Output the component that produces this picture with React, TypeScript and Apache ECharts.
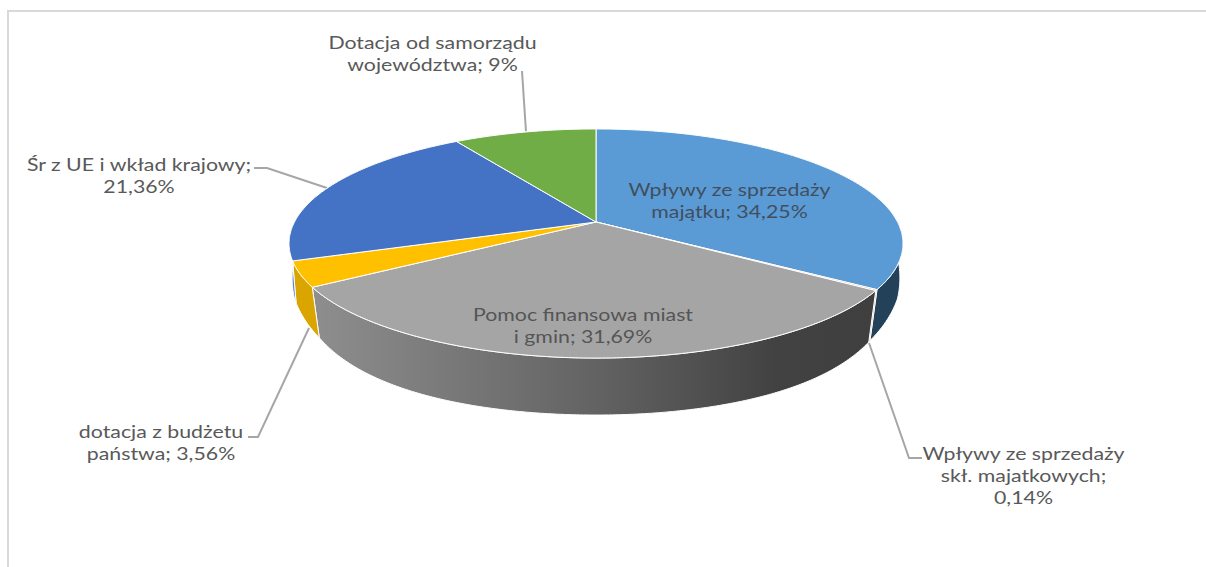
import React, { useEffect, useRef } from "react";
import * as echarts from "echarts";

// Data, clockwise from 12 o'clock
const categories = [
  "Wpływy ze sprzedaży\nmajątku",
  "Wpływy ze sprzedaży\nskł. majatkowych",
  "Pomoc finansowa miast\ni gmin",
  "dotacja z budżetu\npaństwa",
  "Śr z UE i wkład krajowy",
  "Dotacja od samorządu\nwojewództwa",
];
const values = [34.25, 0.14, 31.69, 3.56, 21.36, 9];
const valueLabels = ["34,25%", "0,14%", "31,69%", "3,56%", "21,36%", "9%"];

// Styles
const topColors = ["#5B9BD5", "#ED7D31", "#A5A5A5", "#FFC000", "#4472C4", "#70AD47"];
const wallColors: any[] = [
  "#234159",
  "#8F4C1D",
  new echarts.graphic.LinearGradient(0, 0, 1, 0, [
    { offset: 0, color: "#8e8e8e" },
    { offset: 0.5, color: "#636363" },
    { offset: 0.82, color: "#424242" },
    { offset: 1, color: "#3f3f3f" },
  ]),
  "#DBA500",
  "#5F86CC",
  "#5A8A39",
];

// Label layout (centre of text block) and leader lines
const labelCentres: [number, number][] = [
  [729.5, 200],
  [1023.5, 475],
  [583, 325],
  [161, 442.5],
  [139, 175.5],
  [432.5, 53.5],
];
const labelBreaks = [" ", "\n", " ", " ", "\n", " "];
const labelFill = ["#404f60", "#595959", "#555555", "#595959", "#595959", "#595959"];
const leaders: ([number, number][] | null)[] = [
  null,
  [[869, 343], [909, 458], [922, 458]],
  null,
  [[309, 328], [258, 437], [248, 437]],
  [[327, 188], [267, 168], [254, 168]],
  [[526, 132], [522, 71]],
];

// Perspective disc geometry
const apexX = 596;
const apexY = 222;
const discA = 301.5;
const discB = 110.5;
const discK = 0.1878;

const total = values.reduce((a, b) => a + b, 0);

function topPoint(t: number): [number, number] {
  const x = Math.sin(t);
  const y = -Math.cos(t);
  const d = 1 - discK * y;
  return [apexX + (discA * x) / d, apexY + (discB * y) / d];
}
function lowPoint(t: number): [number, number] {
  const [x, y] = topPoint(t);
  const u = y - 289;
  const h = Math.max(0, 51 + 0.2537 * u - 0.002417 * u * u);
  const s = 0.975 + 0.015 * Math.min(1, Math.max(0, (288 - y) / 30));
  return [apexX + (x - apexX) * s, y + h];
}
function sliceAngles(i: number): [number, number] {
  let s = 0;
  for (let k = 0; k < i; k++) s += values[k];
  return [(s / total) * 2 * Math.PI, ((s + values[i]) / total) * 2 * Math.PI];
}
function arc(a: number, b: number, f: (t: number) => [number, number]) {
  const n = Math.max(2, Math.ceil((b - a) / 0.01));
  const pts: [number, number][] = [];
  for (let j = 0; j <= n; j++) pts.push(f(a + ((b - a) * j) / n));
  return pts;
}

const seriesData = values.map((v) => [v]);

export default function App() {
  const ref = useRef<HTMLDivElement>(null);
  useEffect(() => {
    document.body.style.margin = "0";
    const chart = echarts.init(ref.current!, undefined, { renderer: "svg" });
    chart.setOption({
      animation: false,
      backgroundColor: "#ffffff",
      graphic: [
        {
          type: "polyline",
          shape: { points: [[8, 567], [8, 11], [1206, 11]] },
          style: { stroke: "#d9d9d9", lineWidth: 2, fill: "none" },
          silent: true,
        },
      ],
      series: [
        {
          type: "custom",
          coordinateSystem: "none",
          silent: true,
          z: 1,
          data: seriesData,
          renderItem: (p: any) => {
            const pts = leaders[p.dataIndex];
            if (!pts) return { type: "group", children: [] };
            return {
              type: "polyline",
              shape: { points: pts },
              style: { stroke: "#a6a6a6", lineWidth: 2, fill: "none" },
            };
          },
        },
        {
          type: "custom",
          coordinateSystem: "none",
          silent: true,
          z: 2,
          data: seriesData,
          renderItem: (p: any) => {
            const [a, b] = sliceAngles(p.dataIndex);
            const pts = [...arc(a, b, topPoint), ...arc(a, b, lowPoint).reverse()];
            return {
              type: "polygon",
              shape: { points: pts },
              style: { fill: wallColors[p.dataIndex], stroke: "#ffffff", lineWidth: 1 },
            };
          },
        },
        {
          type: "custom",
          coordinateSystem: "none",
          silent: true,
          z: 3,
          data: seriesData,
          renderItem: (p: any) => {
            const [a, b] = sliceAngles(p.dataIndex);
            const pts = [[apexX, apexY], ...arc(a, b, topPoint)];
            return {
              type: "polygon",
              shape: { points: pts },
              style: { fill: topColors[p.dataIndex], stroke: "#ffffff", lineWidth: 1 },
            };
          },
        },
        {
          type: "custom",
          coordinateSystem: "none",
          silent: true,
          z: 4,
          data: seriesData,
          renderItem: (p: any) => {
            const i = p.dataIndex;
            return {
              type: "text",
              x: labelCentres[i][0],
              y: labelCentres[i][1],
              scaleX: 1.255,
              style: {
                text: `${categories[i]};${labelBreaks[i]}${valueLabels[i]}`,
                fontFamily: "Lato",
                fontSize: 17,
                lineHeight: 22,
                fill: labelFill[i],
                align: "center",
                verticalAlign: "middle",
              },
            };
          },
        },
      ],
    });
    return () => chart.dispose();
  }, []);
  return <div ref={ref} style={{ width: 1206, height: 567 }} />;
}
